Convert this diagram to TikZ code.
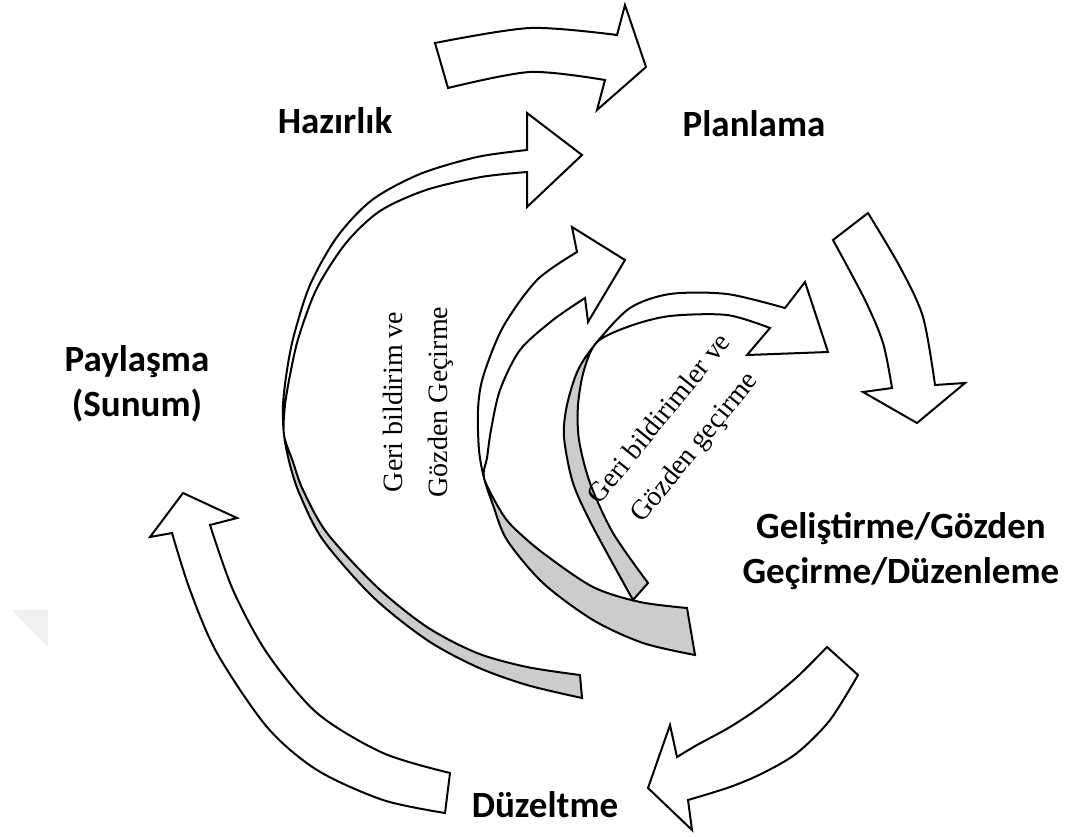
\documentclass[tikz,border=0pt]{standalone}
\usepackage{fontspec}
\setmainfont{Liberation Serif}
\newfontfamily\stagefont{Carlito}
\begin{document}
\begin{tikzpicture}[x=1pt,y=-1pt,
  blockarrow/.style={draw=black, line width=2pt, line join=miter, fill=white},
  outline/.style={draw=black, line width=2pt, line join=miter},
  backface/.style={fill=black!20},
  frontface/.style={fill=white},
  stage/.style={font=\stagefont\bfseries\fontsize{37}{45}\selectfont, align=center, inner sep=0pt},
  note/.style={font=\fontsize{28}{45}\selectfont, align=center, inner sep=0pt}]
\useasboundingbox (0,0) rectangle (1075,836);

% faint corner mark on the left edge
\fill[black!6] (12,610) -- (48,610) -- (48,647) -- cycle;

% ---- outer cycle: four block arrows ----
% Hazirlik -> Planlama
\draw[blockarrow] plot[smooth] coordinates {(435,43) (530,28) (617,35)}
  -- (625,5) -- (646,67) -- (597,110) -- (605,80)
  -- plot[smooth] coordinates {(605,80) (530,72) (448,88)} -- cycle;
% Planlama -> Gelistirme
\draw[blockarrow] plot[smooth] coordinates {(868,213) (900,267) (923,317) (935,385)}
  -- (965,383) -- (917,423) -- (863,392) -- (892,388)
  -- plot[smooth] coordinates {(892,388) (883,343) (865,300) (833,240)} -- cycle;
% Gelistirme -> Duzeltme
\draw[blockarrow] plot[smooth] coordinates {(827,647) (797,677) (763,705) (730,727) (697,745) (677,757)}
  -- (670,725) -- (648,788) -- (692,830) -- (688,800)
  -- plot[smooth] coordinates {(688,800) (730,787) (763,773) (797,753) (830,720) (858,675)} -- cycle;
% Duzeltme -> Paylasma
\draw[blockarrow] plot[smooth] coordinates {(450,773) (383,753) (317,713) (267,653) (233,590) (210,525)}
  -- (237,518) -- (183,493) -- (150,537) -- (172,533)
  -- plot[smooth] coordinates {(172,533) (190,590) (217,653) (267,727) (317,770) (383,800) (445,813)} -- cycle;

% ---- feedback arrows: white front face, grey back face ----
% outer feedback arrow
\fill[frontface] plot[smooth] coordinates {(284,435) (283,405) (287,370) (294,335) (310,285) (337,237) (372,200) (420,174) (477,157) (527,150)}
  -- (527,113) -- (582,155) -- (527,207) -- (527,172)
  -- plot[smooth] coordinates {(527,172) (481,177) (426,190) (380,211) (346,243) (317,288) (299,336) (291,370) (285,405) (284,435)} -- cycle;
\fill[backface] plot[smooth] coordinates {(284,435) (290,465) (300,495) (323,540) (373,597) (427,640) (477,667) (527,685) (582,698)}
  -- (580,675)
  -- plot[smooth] coordinates {(580,675) (527,667) (477,653) (427,627) (377,587) (327,533) (303,490) (293,462) (284,435)} -- cycle;
\draw[outline] plot[smooth] coordinates {(582,698) (527,685) (477,667) (427,640) (373,597) (323,540) (300,495) (290,465) (284,435) (283,405) (287,370) (294,335) (310,285) (337,237) (372,200) (420,174) (477,157) (527,150)}
  -- (527,113) -- (582,155) -- (527,207) -- (527,172)
  -- plot[smooth] coordinates {(527,172) (481,177) (426,190) (380,211) (346,243) (317,288) (299,336) (291,370) (285,405) (284,435) (293,462) (303,490) (327,533) (377,587) (427,627) (477,653) (527,667) (580,675)} -- cycle;

% middle feedback arrow
\fill[frontface] plot[smooth] coordinates {(484,478) (479,450) (478,410) (483,377) (503,327) (537,280) (577,252)}
  -- (572,227) -- (625,260) -- (588,322) -- (585,298)
  -- plot[smooth] coordinates {(585,298) (553,320) (520,350) (500,390) (491,430) (487,458) (484,478)} -- cycle;
\fill[backface] plot[smooth] coordinates {(484,478) (493,505) (507,540) (543,583) (593,620) (643,643) (695,655)}
  -- (687,608)
  -- plot[smooth] coordinates {(687,608) (640,602) (593,587) (543,553) (513,527) (500,510) (484,478)} -- cycle;
\draw[outline] plot[smooth] coordinates {(695,655) (643,643) (593,620) (543,583) (507,540) (493,505) (484,478) (479,450) (478,410) (483,377) (503,327) (537,280) (577,252)}
  -- (572,227) -- (625,260) -- (588,322) -- (585,298)
  -- plot[smooth] coordinates {(585,298) (553,320) (520,350) (500,390) (491,430) (487,458) (484,478) (500,510) (513,527) (543,553) (593,587) (640,602) (687,608)} -- cycle;

% inner feedback arrow
\fill[frontface] plot[smooth] coordinates {(597,342) (630,308) (670,294) (727,294) (785,308)}
  -- (805,282) -- (828,352) -- (747,355) -- (770,328)
  -- plot[smooth] coordinates {(770,328) (727,315) (670,316) (630,326) (597,342)} -- cycle;
\fill[backface] plot[smooth] coordinates {(597,342) (578,370) (567,405) (564,437) (573,483) (593,527) (633,600)}
  -- (648,583)
  -- plot[smooth] coordinates {(648,583) (613,533) (590,483) (579,440) (578,405) (584,370) (597,342)} -- cycle;
\draw[outline] plot[smooth] coordinates {(633,600) (593,527) (573,483) (564,437) (567,405) (578,370) (597,342) (630,308) (670,294) (727,294) (785,308)}
  -- (805,282) -- (828,352) -- (747,355) -- (770,328)
  -- plot[smooth] coordinates {(770,328) (727,315) (670,316) (630,326) (597,342) (584,370) (578,405) (579,440) (590,483) (613,533) (648,583)} -- cycle;

% ---- stage labels (base = baseline of the last line) ----
\node[stage, anchor=base] (hazirlik) at (335,133) {Hazırlık};
\node[stage, anchor=base] (planlama) at (754,136) {Planlama};
\node[stage, anchor=base] (paylasma) at (137,416) {Paylaşma\\(Sunum)};
\node[stage, anchor=base] (gelistirme) at (901,583) {Geliştirme/Gözden\\Geçirme/Düzenleme};
\node[stage, anchor=base] (duzeltme) at (545,817) {Düzeltme};

% ---- feedback labels ----
\node[note, rotate=90] (geribildirim) at (418,402) {Geri bildirim ve\\Gözden Geçirme};
\node[note, rotate=51] (geribildirimler) at (678,434) {Geri bildirimler ve\\Gözden geçirme};
\end{tikzpicture}
\end{document}
